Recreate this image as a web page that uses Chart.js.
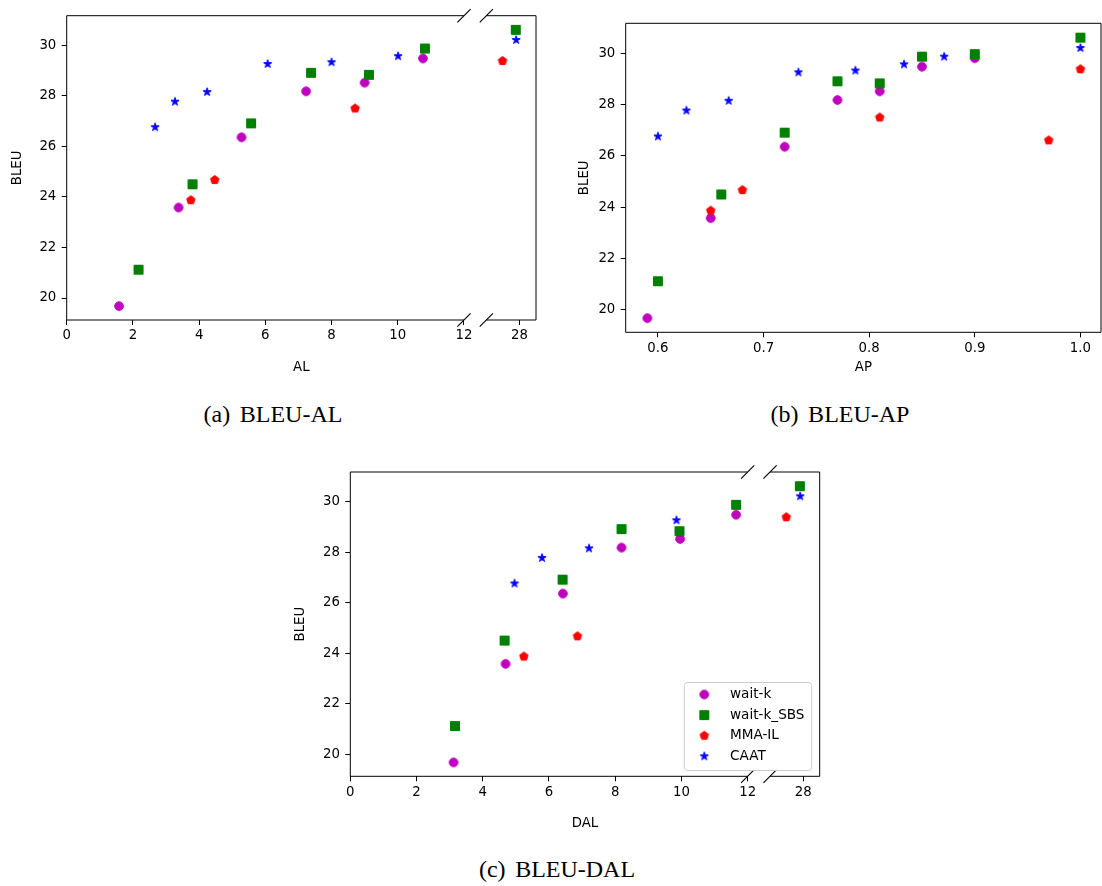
<!DOCTYPE html>
<html>
<head>
<meta charset="utf-8">
<script src="https://cdn.jsdelivr.net/npm/chart.js@4.4.1/dist/chart.umd.min.js"></script>
<style>
html, body { margin: 0; background: #fff; width: 1102px; height: 886px; position: relative; overflow: hidden; }
canvas { position: absolute; }
.cap { position: absolute; font-family: "Liberation Serif", "Times New Roman", serif; font-size: 24px; line-height: 24px; color: #000; white-space: nowrap; transform: translateX(-50%); }
.cap span + span { margin-left: 0.4em; }
</style>
</head>
<body>
<canvas id="chartA" width="550" height="376" style="left:0px;top:0px"></canvas>
<canvas id="chartB" width="550" height="376" style="left:560px;top:0px"></canvas>
<canvas id="chartC" width="560" height="392" style="left:280px;top:440px"></canvas>
<div class="cap" style="left:273px;top:402px"><span>(a)</span><span>BLEU-AL</span></div>
<div class="cap" style="left:840px;top:402px"><span>(b)</span><span>BLEU-AP</span></div>
<div class="cap" style="left:557px;top:857px"><span>(c)</span><span>BLEU-DAL</span></div>
<script>
// series names
var seriesNames = ["wait-k", "wait-k_SBS", "MMA-IL", "CAAT"];

// BLEU (same runs in every panel)
var waitkBLEU = [19.68, 23.58, 26.36, 28.18, 28.52, 29.48, 29.81];
var sbsBLEU   = [21.12, 24.50, 26.91, 28.91, 28.83, 29.87, 29.97, 30.61];
var mmaBLEU   = [23.87, 24.67, 27.50, 26.61, 29.38];
var caatBLEU  = [26.76, 27.77, 28.15, 29.26, 29.33, 29.57, 29.87, 30.21];

// AL
var waitkAL = [1.58, 3.38, 5.28, 7.23, 9.00, 10.76, null];
var sbsAL   = [2.17, 3.80, 5.57, 7.38, 9.13, 10.82, null, 27.89];
var mmaAL   = [3.75, 4.47, 8.71, null, 27.49];
var caatAL  = [2.67, 3.27, 4.24, 6.07, 8.00, 10.01, null, 27.90];

// AP
var waitkAP = [0.590, 0.650, 0.720, 0.770, 0.810, 0.850, 0.900];
var sbsAP   = [0.600, 0.660, 0.720, 0.770, 0.810, 0.850, 0.900, 1.000];
var mmaAP   = [0.650, 0.680, 0.810, 0.970, 1.000];
var caatAP  = [0.600, 0.627, 0.667, 0.733, 0.787, 0.833, 0.871, 1.000];

// DAL
var waitkDAL = [3.12, 4.69, 6.42, 8.19, 9.96, 11.65, null];
var sbsDAL   = [3.16, 4.66, 6.41, 8.19, 9.94, 11.65, null, 27.90];
var mmaDAL   = [5.24, 6.86, null, null, 27.49];
var caatDAL  = [4.96, 5.79, 7.21, 9.85, null, null, null, 27.91];

// ticks
var bleuTicks = [20, 22, 24, 26, 28, 30];
var latTicks = [0, 2, 4, 6, 8, 10, 12, 28];
var apTicks = [0.6, 0.7, 0.8, 0.9, 1.0];

// broken x axis: 0..12 | gap | 27..28.5
var GAP = 0.675;
function brk(v) {
    if (v === null) return null;
    return v <= 12.5 ? v : v - 27 + 12 + GAP;
}
function unbrk(v) {
    return v <= 12.5 ? v : Math.round(v - 12 - GAP + 27);
}
function noBrk(v) { return v; }

var FONT = "'DejaVu Sans', sans-serif";

// marker images (matplotlib o, s, p, *), filled + same colour edge
function markerCanvas(kind, color) {
    var c = document.createElement("canvas");
    c.width = 16; c.height = 16;
    var g = c.getContext("2d");
    g.fillStyle = color;
    g.strokeStyle = color;
    g.lineWidth = 1;
    g.lineJoin = "round";
    g.beginPath();
    if (kind == "circle") {
        g.arc(8, 8, 4.35, 0, Math.PI * 2);
    } else if (kind == "square") {
        g.rect(3.5, 3.5, 9, 9);
    } else if (kind == "pentagon") {
        for (var i = 0; i < 5; i++) {
            var a = -Math.PI / 2 + i * 2 * Math.PI / 5;
            var px = 8 + 4.45 * Math.cos(a), py = 8 + 4.45 * Math.sin(a);
            if (i == 0) g.moveTo(px, py); else g.lineTo(px, py);
        }
        g.closePath();
    } else {
        for (var j = 0; j < 10; j++) {
            var r = j % 2 == 0 ? 4.3 : 4.3 * 0.382;
            var b = -Math.PI / 2 + j * Math.PI / 5;
            var qx = 8 + r * Math.cos(b), qy = 8 + r * Math.sin(b);
            if (j == 0) g.moveTo(qx, qy); else g.lineTo(qx, qy);
        }
        g.closePath();
    }
    g.fill();
    g.stroke();
    return c;
}

var markers = [
    markerCanvas("circle", "#bf00bf"),
    markerCanvas("square", "#008000"),
    markerCanvas("pentagon", "#ff0000"),
    markerCanvas("star", "#0000ff")
];

function points(xs, ys, fx) {
    var out = [];
    for (var i = 0; i < xs.length; i++) {
        if (xs[i] === null) continue;
        out.push({ x: fx(xs[i]), y: ys[i] });
    }
    return out;
}

function buildSets(xw, xs, xm, xc, fx) {
    var cols = [xw, xs, xm, xc];
    var ys = [waitkBLEU, sbsBLEU, mmaBLEU, caatBLEU];
    return cols.map(function(col, k) {
        return {
            label: seriesNames[k],
            data: points(col, ys[k], fx),
            pointStyle: markers[k],
            pointRadius: 5,
            pointBorderWidth: 0,
            showLine: false,
            order: 4 - k
        };
    });
}

// spines + break marks
var framePlugin = {
    id: "frame",
    afterDatasetsDraw: function(chart, args, opts) {
        var a = chart.chartArea, ctx = chart.ctx, xs = chart.scales.x;
        ctx.save();
        ctx.strokeStyle = "#000";
        ctx.lineWidth = 1;
        ctx.beginPath();
        ctx.moveTo(a.left, a.top); ctx.lineTo(a.left, a.bottom);
        ctx.moveTo(a.right, a.top); ctx.lineTo(a.right, a.bottom);
        if (opts.broken) {
            var b1 = xs.getPixelForValue(12), b2 = xs.getPixelForValue(brk(27));
            [a.top, a.bottom].forEach(function(y) {
                ctx.moveTo(a.left, y); ctx.lineTo(b1, y);
                ctx.moveTo(b2, y); ctx.lineTo(a.right, y);
            });
            ctx.stroke();
            ctx.beginPath();
            ctx.lineWidth = 1.1;
            [b1, b2].forEach(function(x) {
                [a.top, a.bottom].forEach(function(y) {
                    ctx.moveTo(x - 6.6, y + 6.6);
                    ctx.lineTo(x + 6.6, y - 6.6);
                });
            });
        } else {
            ctx.moveTo(a.left, a.top); ctx.lineTo(a.right, a.top);
            ctx.moveTo(a.left, a.bottom); ctx.lineTo(a.right, a.bottom);
        }
        ctx.stroke();
        ctx.restore();
    }
};

// legend box inside the plot (lower right)
var legendPlugin = {
    id: "boxLegend",
    afterDraw: function(chart, args, opts) {
        if (!opts.show) return;
        var ctx = chart.ctx, a = chart.chartArea;
        var w = 127.4, h = 88;
        var x0 = a.right - 8 - w, y0 = a.bottom - 5.8 - h, r = 3;
        ctx.save();
        ctx.beginPath();
        ctx.moveTo(x0 + r, y0);
        ctx.lineTo(x0 + w - r, y0);
        ctx.arcTo(x0 + w, y0, x0 + w, y0 + r, r);
        ctx.lineTo(x0 + w, y0 + h - r);
        ctx.arcTo(x0 + w, y0 + h, x0 + w - r, y0 + h, r);
        ctx.lineTo(x0 + r, y0 + h);
        ctx.arcTo(x0, y0 + h, x0, y0 + h - r, r);
        ctx.lineTo(x0, y0 + r);
        ctx.arcTo(x0, y0, x0 + r, y0, r);
        ctx.closePath();
        ctx.fillStyle = "rgba(255,255,255,0.8)";
        ctx.fill();
        ctx.strokeStyle = "#cccccc";
        ctx.lineWidth = 1;
        ctx.stroke();
        ctx.font = "13.6px " + FONT;
        ctx.textBaseline = "middle";
        ctx.fillStyle = "#000";
        chart.data.datasets.forEach(function(ds, i) {
            var y = y0 + 12 + i * 20.6;
            var m = ds.pointStyle;
            ctx.drawImage(m, x0 + 20 - m.width / 2, y - m.height / 2);
            ctx.fillText(ds.label, x0 + 45.7, y);
        });
        ctx.restore();
    }
};

function makeChart(id, o) {
    return new Chart(document.getElementById(id), {
        type: "scatter",
        data: { datasets: o.sets },
        options: {
            responsive: false,
            animation: false,
            layout: { padding: o.pad },
            plugins: {
                legend: { display: false },
                tooltip: { enabled: false },
                frame: { broken: o.broken },
                boxLegend: { show: o.legend }
            },
            scales: {
                x: {
                    type: "linear",
                    min: o.xmin,
                    max: o.xmax,
                    border: { display: false },
                    grid: { drawOnChartArea: false, drawTicks: true, tickLength: 5, color: "#000" },
                    afterBuildTicks: function(s) {
                        s.ticks = o.xticks.map(function(v) { return { value: o.fx(v) }; });
                    },
                    afterFit: function(s) {
                        s.height = o.xh;
                        s.paddingLeft = 0;
                        s.paddingRight = 0;
                    },
                    ticks: {
                        autoSkip: false, maxRotation: 0, padding: 3, color: "#000",
                        font: { family: FONT, size: 13.3 },
                        callback: o.xlabel
                    },
                    title: {
                        display: true, text: o.xtitle, color: "#000",
                        font: { family: FONT, size: 13.3 },
                        padding: { top: 0, bottom: 0 }
                    }
                },
                y: {
                    type: "linear",
                    min: 19.13,
                    max: 31.17,
                    border: { display: false },
                    grid: { drawOnChartArea: false, drawTicks: true, tickLength: 5, color: "#000" },
                    afterBuildTicks: function(s) {
                        s.ticks = bleuTicks.map(function(v) { return { value: v }; });
                    },
                    afterFit: function(s) {
                        s.width = o.yw;
                        s.paddingTop = 0;
                        s.paddingBottom = 0;
                    },
                    ticks: {
                        padding: 5.4, color: "#000",
                        font: { family: FONT, size: 13.3 }
                    },
                    title: {
                        display: true, text: "BLEU", color: "#000",
                        font: { family: FONT, size: 13.3 },
                        padding: { top: o.ytp, bottom: 0 }
                    }
                }
            }
        },
        plugins: [framePlugin, legendPlugin]
    });
}

makeChart("chartA", {
    sets: buildSets(waitkAL, sbsAL, mmaAL, caatAL, brk),
    pad: { left: 0, top: 15.7, right: 14, bottom: 0 },
    broken: true, legend: false,
    xmin: 0, xmax: 12 + GAP + 1.5,
    xticks: latTicks, fx: brk,
    xlabel: function(v) { return String(unbrk(v)); },
    xtitle: "AL", xh: 56, yw: 66.7, ytp: 9.5
});

// canvas B is wider than the page; its plot still ends at x = 1101
makeChart("chartB", {
    sets: buildSets(waitkAP, sbsAP, mmaAP, caatAP, noBrk),
    pad: { left: 0, top: 23.3, right: 9, bottom: 0 },
    broken: false, legend: false,
    xmin: 0.5695, xmax: 1.0195,
    xticks: apTicks, fx: noBrk,
    xlabel: function(v) { return v.toFixed(1); },
    xtitle: "AP", xh: 43.7, yw: 65.7, ytp: 16.2
});

makeChart("chartC", {
    sets: buildSets(waitkDAL, sbsDAL, mmaDAL, caatDAL, brk),
    pad: { left: 0, top: 32, right: 20.3, bottom: 0 },
    broken: true, legend: true,
    xmin: 0, xmax: 12 + GAP + 1.5,
    xticks: latTicks, fx: brk,
    xlabel: function(v) { return String(unbrk(v)); },
    xtitle: "DAL", xh: 55.7, yw: 70.3, ytp: 12.7
});
</script>
</body>
</html>
